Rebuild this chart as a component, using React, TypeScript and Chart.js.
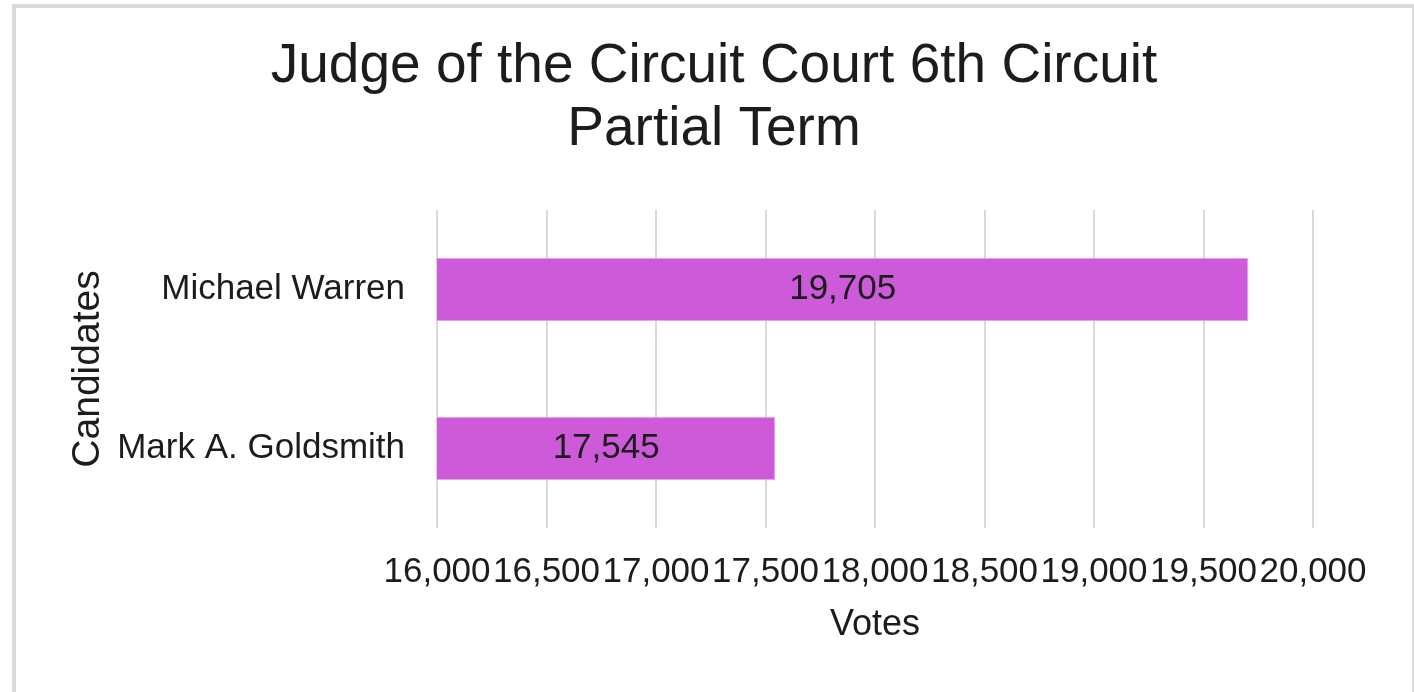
import React, { useEffect, useRef } from "react";
import { Chart, registerables } from "chart.js";

Chart.register(...registerables);

const titleLines = ["Judge of the Circuit Court 6th Circuit", "Partial Term"];
const candidates = ["Michael Warren", "Mark A. Goldsmith"];
const votes = [19705, 17545];
const xTicks = [16000, 16500, 17000, 17500, 18000, 18500, 19000, 19500, 20000];
const xMin = 16000;
const xMax = 20000;

const FONT = "'Liberation Sans', Arial, sans-serif";
const TEXT = "#1c1c1c";

const fmt = (v: number) => String(v).replace(/\B(?=(\d{3})+(?!\d))/g, ",");

const valueLabels = {
  id: "barValueLabels",
  afterDraw(chart: any) {
    const ctx = chart.ctx;
    const xs = chart.scales.x;
    const ys = chart.scales.y;
    if (!xs || !ys) return;
    ctx.save();
    ctx.font = `35px ${FONT}`;
    ctx.fillStyle = TEXT;
    ctx.textAlign = "center";
    ctx.textBaseline = "middle";
    votes.forEach((v, i) => {
      const x0 = xs.getPixelForValue(xMin);
      const x1 = xs.getPixelForValue(v);
      const y = ys.getPixelForValue(i);
      ctx.fillText(fmt(v), (x0 + x1) / 2, y);
    });
    ctx.restore();
  },
};
Chart.register(valueLabels as any);

export default function App() {
  const ref = useRef<HTMLCanvasElement | null>(null);
  useEffect(() => {
    if (!ref.current) return;
    const chart = new Chart(ref.current, {
      type: "bar",
      data: {
        labels: candidates,
        datasets: [
          {
            data: votes,
            backgroundColor: "#cd5ad9",
            borderColor: "#eaa6ef",
            borderWidth: 1,
            barPercentage: 0.4,
            categoryPercentage: 1,
          },
        ],
      },
      options: {
        indexAxis: "y",
        animation: false,
        responsive: false,
        layout: { padding: { left: 0, right: 0, top: 0, bottom: 34 } },
        plugins: {
          legend: { display: false },
          tooltip: { enabled: false },
          title: {
            display: true,
            text: titleLines,
            color: TEXT,
            font: { family: FONT, size: 55, weight: "normal", lineHeight: 1.1545 },
            padding: { top: 27, bottom: 48 },
          },
        },
        scales: {
          x: {
            min: xMin,
            max: xMax,
            afterBuildTicks: (scale: any) => {
              scale.ticks = xTicks.map((v) => ({ value: v }));
            },
            afterFit: (scale: any) => {
              scale.height = 130;
            },
            grid: { color: "#d9d9d9", lineWidth: 2, drawTicks: false },
            border: { display: false },
            ticks: {
              autoSkip: false,
              maxRotation: 0,
              minRotation: 0,
              padding: 23,
              color: TEXT,
              font: { family: FONT, size: 35 },
              callback: (v: any) => fmt(Number(v)),
            },
            title: {
              display: true,
              text: "Votes",
              color: TEXT,
              font: { family: FONT, size: 36 },
              padding: { top: 0, bottom: 11 },
            },
          },
          y: {
            afterFit: (scale: any) => {
              scale.width = 421;
            },
            grid: { display: false, drawTicks: false },
            border: { display: false },
            ticks: {
              padding: 32,
              color: TEXT,
              font: { family: FONT, size: 35 },
            },
            title: {
              display: true,
              text: "Candidates",
              color: TEXT,
              font: { family: FONT, size: 39 },
              padding: { top: 49, bottom: 0 },
            },
          },
          yRight: {
            type: "category",
            axis: "y",
            position: "right",
            display: true,
            afterFit: (scale: any) => {
              scale.width = 99;
            },
            grid: { display: false, drawTicks: false },
            border: { display: false },
            ticks: { display: false },
          },
        },
      },
    } as any);
    return () => chart.destroy();
  }, []);

  return (
    <div
      style={{
        position: "fixed",
        left: 0,
        top: 0,
        width: 1414,
        height: 692,
        overflow: "hidden",
        background: "#ffffff",
      }}
    >
      <div
        style={{
          position: "absolute",
          left: 12,
          top: 4,
          width: 1396,
          height: 700,
          border: "4px solid #d9d9d9",
          background: "#ffffff",
        }}
      >
        <canvas ref={ref} width={1396} height={684} style={{ display: "block" }} />
      </div>
    </div>
  );
}
